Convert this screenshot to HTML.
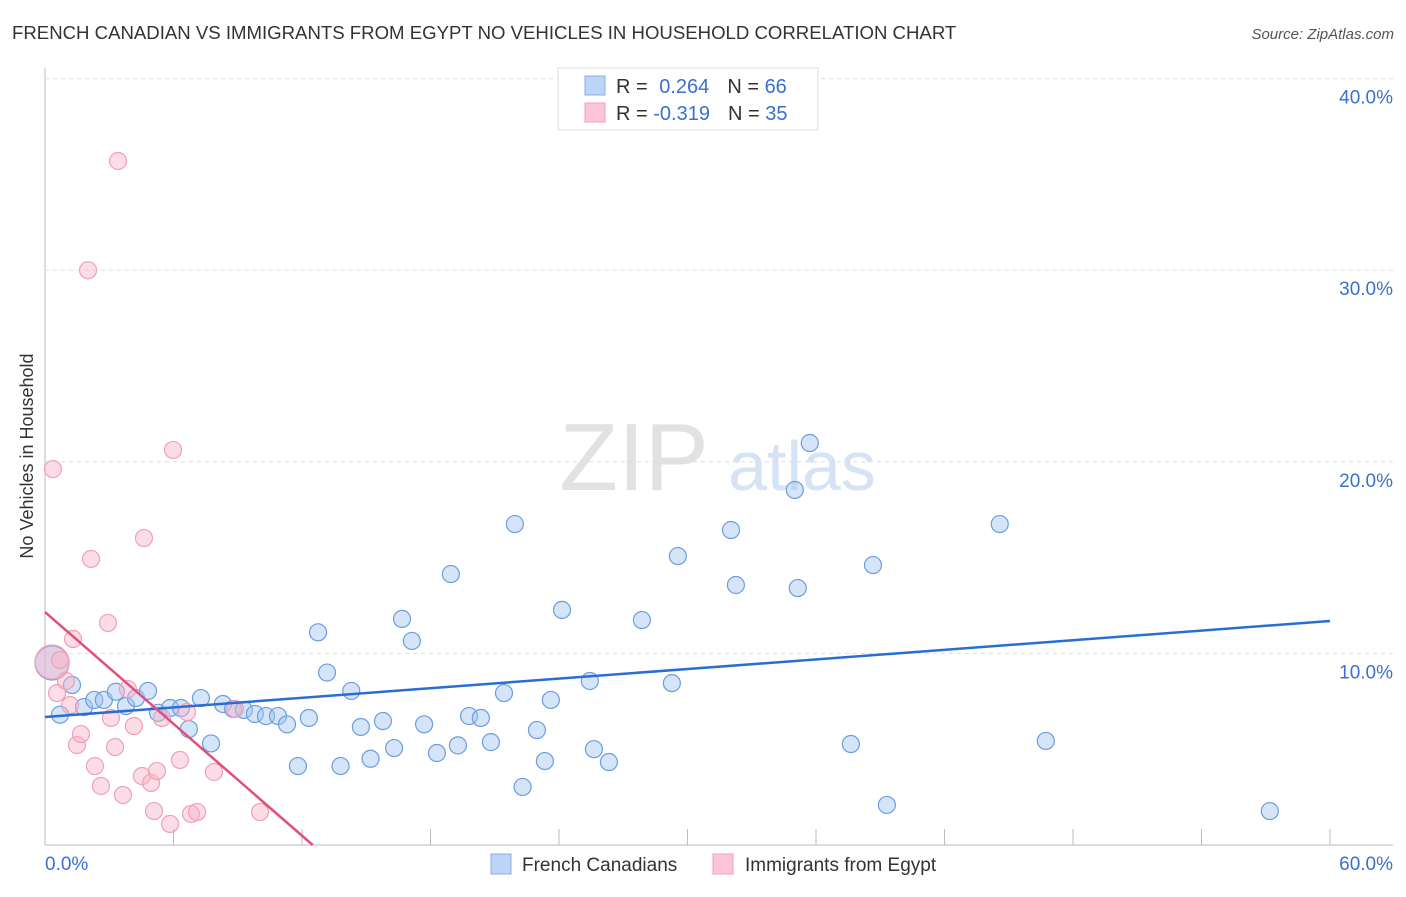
<!DOCTYPE html>
<html><head><meta charset="utf-8"><style>
body{margin:0;background:#fff;font-family:"Liberation Sans",sans-serif;}
svg text{font-family:"Liberation Sans",sans-serif;}
</style></head><body>
<svg id="chart" width="1406" height="892" viewBox="0 0 1406 892">
<text x="12" y="39" font-size="18.6" fill="#333">FRENCH CANADIAN VS IMMIGRANTS FROM EGYPT NO VEHICLES IN HOUSEHOLD CORRELATION CHART</text>
<text x="1394" y="39" font-size="15" fill="#555" font-style="italic" text-anchor="end">Source: ZipAtlas.com</text>
<text x="33" y="456" font-size="18" fill="#333" text-anchor="middle" transform="rotate(-90 33 456)">No Vehicles in Household</text>
<g>
<text x="634" y="490" font-size="96" fill="#e2e2e2" font-family="Liberation Serif" text-anchor="middle">ZIP</text>
<text x="802" y="490" font-size="70" fill="#d6e3f5" text-anchor="middle">atlas</text>
</g>
<g id="grid"></g>
<g id="marks"></g>
<g>
<rect x="558" y="68" width="260" height="62" fill="#fff" stroke="#ddd"/>
<rect x="585" y="76" width="20" height="19" fill="#bcd4f6" stroke="#88aee6"/>
<rect x="585" y="103" width="20" height="19" fill="#fcc6d6" stroke="#f0a0b8"/>
<text x="616" y="93" font-size="20" fill="#333">R = <tspan fill="#3a70d0" dx="6">0.264</tspan><tspan fill="#333" dx="18">N = </tspan><tspan fill="#3a70d0">66</tspan></text>
<text x="616" y="120" font-size="20" fill="#333">R = <tspan fill="#3a70d0">-0.319</tspan><tspan fill="#333" dx="18">N = </tspan><tspan fill="#3a70d0">35</tspan></text>
</g>
<g>
<rect x="491" y="854" width="20" height="20" fill="#bcd4f6" stroke="#88aee6"/>
<text x="522" y="871" font-size="19" fill="#333">French Canadians</text>
<rect x="713" y="854" width="20" height="20" fill="#fcc6d6" stroke="#f0a0b8"/>
<text x="745" y="871" font-size="19" fill="#333">Immigrants from Egypt</text>
</g>
</svg>
<script>
const yTicks=[10,20,30,40];
const xTicks=[0,6,12,18,24,30,36,42,48,54,60];
const blueX=[0.33,0.7,1.26,1.82,2.3,2.75,3.31,3.78,4.25,4.81,5.28,5.84,6.35,6.72,7.28,7.75,8.31,8.78,9.29,9.8,10.32,10.88,11.3,11.81,12.32,12.75,13.17,13.8,14.3,14.75,15.2,15.78,16.3,16.67,17.13,17.7,18.3,18.95,19.28,19.8,20.35,20.82,21.43,21.94,22.3,22.97,23.34,23.62,24.14,25.44,25.63,26.33,27.87,29.27,29.55,32.03,32.26,35.01,35.15,35.71,37.63,38.66,39.31,44.58,46.73,57.19];
const blueY=[9.5,6.8,8.35,7.2,7.57,7.57,8.0,7.25,7.67,8.04,6.9,7.15,7.15,6.05,7.67,5.3,7.36,7.1,7.05,6.84,6.73,6.73,6.3,4.12,6.63,11.1,9.0,4.12,8.04,6.16,4.5,6.47,5.06,11.8,10.65,6.3,4.8,14.14,5.2,6.73,6.63,5.37,7.93,16.75,3.03,6.0,4.38,7.57,12.27,8.56,5.0,4.33,11.74,8.45,15.08,16.44,13.57,18.53,13.41,20.98,5.27,14.61,2.09,16.75,5.43,1.77];
const pinkX=[0.33,0.37,0.56,0.7,0.98,1.31,1.17,1.49,1.68,2.01,2.15,2.33,2.61,2.94,3.08,3.27,3.41,3.64,3.87,4.15,4.53,4.62,4.95,5.09,5.23,5.46,5.84,5.98,6.3,6.63,6.82,7.1,7.89,8.87,10.04];
const pinkY=[9.55,19.62,7.93,9.66,8.56,10.75,7.3,5.22,5.79,30.0,14.93,4.12,3.08,11.59,6.63,5.11,35.7,2.61,8.14,6.21,3.6,16.02,3.24,1.77,3.86,6.63,1.1,20.62,4.44,6.94,1.62,1.72,3.81,7.1,1.72];
const blueLine=[6.68,11.69];
const pinkLine=[12.16];
const pinkZeroX=12.5;
const X=v=>45+v*(1285/60);
const Y=v=>845-v*19.16;
const NS='http://www.w3.org/2000/svg';
const grid=document.getElementById('grid'),marks=document.getElementById('marks');
function mk(tag,attrs,parent){const e=document.createElementNS(NS,tag);for(const k in attrs)e.setAttribute(k,attrs[k]);parent.appendChild(e);return e;}
let ax=mk('line',{x1:45,y1:68,x2:45,y2:845,stroke:'#bbb'},grid);


let bx=mk('line',{x1:45,y1:845,x2:1393,y2:845,stroke:'#bbb'},grid);


yTicks.forEach(t=>{
 let g=mk('line',{x1:45,y1:Y(t),x2:1393,y2:Y(t),stroke:'#ddd','stroke-dasharray':'4,4'},grid);
 
 
 let l=mk('text',{x:1393,y:Y(t)+25,'font-size':19,fill:'#3a70d0','text-anchor':'end'},grid);
 l.textContent=t.toFixed(1)+'%';
 
 
});
xTicks.forEach(t=>{
 let k=mk('line',{x1:X(t),y1:829,x2:X(t),y2:845,stroke:'#bbb'},grid);
 
 
});
[[0,'start',45],[60,'end',1393]].forEach(([t,a,x])=>{
 let l=mk('text',{x:x,y:870,'font-size':19,fill:'#3a70d0','text-anchor':a},grid);
 l.textContent=t.toFixed(1)+'%';
 
 
});
function dots(xs,ys,fill,stroke,name){
 xs.forEach((x,i)=>{
  let r=(i===0)?17:8.5;
  let c=mk('circle',{cx:X(x),cy:Y(ys[i]),r:r,fill:fill,stroke:stroke,'stroke-width':1.2},marks);
  
  
 });
}
dots(blueX,blueY,'rgba(164,196,240,0.45)','#6a9ee0','french-canadian-point');
dots(pinkX,pinkY,'rgba(248,180,200,0.45)','#f0a0b8','egypt-immigrant-point');
let bl=mk('line',{x1:X(0),y1:Y(blueLine[0]),x2:X(60),y2:Y(blueLine[1]),stroke:'#2a6dd4','stroke-width':2.5},marks);


let pl=mk('line',{x1:X(0),y1:Y(pinkLine[0]),x2:X(pinkZeroX),y2:Y(0),stroke:'#e0507a','stroke-width':2.5},marks);


</script>
</body></html>
